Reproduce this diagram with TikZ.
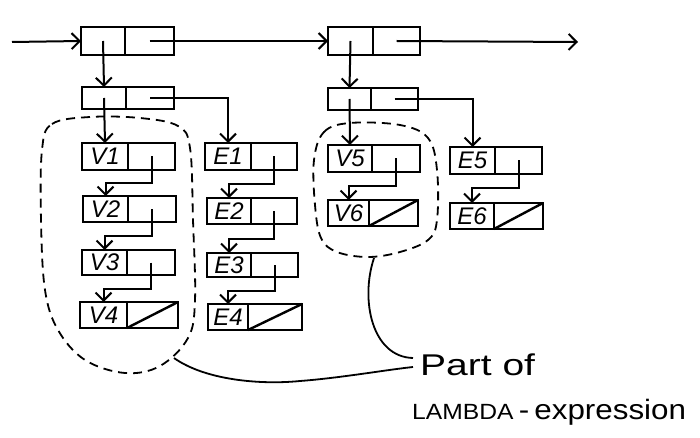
\documentclass[tikz,border=0pt]{standalone}
\usepackage{fontspec}
\setmainfont{Liberation Sans}
\usetikzlibrary{arrows.meta,calc}
\tikzset{
 half/.style={draw, line width=2.6pt, inner sep=0pt, outer sep=0pt, font=\fontsize{24}{24}\selectfont\itshape},
 arr/.style={line width=2pt, -{Straight Barb[length=8pt,width=16pt,line width=2pt]}},
 region/.style={dash pattern=on 9pt off 6pt, line width=1.8pt},
 nullbar/.style={line width=2.4pt},
 lead/.style={line width=1.8pt},
 caption/.style={anchor=base west, inner sep=0pt}
}
\newcommand\conscell[7]{% name, left, top, car width, cdr width, height, label
 \node[half, minimum width=#4pt, minimum height=#6pt] (#1a) at ({#2+#4/2},{#3+#6/2}) {#7};
 \node[half, minimum width=#5pt, minimum height=#6pt, anchor=west] (#1d) at (#1a.east) {};
}
\newcommand\nextlink[2]{\draw[arr] (#1d.center) |- ($(#1d.south)!.5!(#2a.north)$) -| (#2a.north);}
\newcommand\nullcdr[1]{\draw[nullbar] (#1d.south west) -- (#1d.north east);}
\begin{document}
\begin{tikzpicture}[x=1pt,y=-1pt]
\useasboundingbox (0,0) rectangle (700,438);
% cells
\conscell{T1}{81}{27}{44}{49}{28}{}
\conscell{T2}{328}{27}{45}{47}{28}{}
\conscell{R1}{82}{87}{44}{48}{22}{}
\conscell{R2}{328}{88}{43}{47}{22}{}
\conscell{V1}{82}{143}{46}{47}{27}{V1}
\conscell{V2}{83}{196}{45}{48}{26}{V2}
\conscell{V3}{82}{250}{45}{48}{25}{V3}
\conscell{V4}{80}{302}{47}{51}{26}{V4}
\conscell{E1}{205}{143}{46}{46}{27}{E1}
\conscell{E2}{207}{198}{44}{46}{26}{E2}
\conscell{E3}{207}{253}{44}{47}{24}{E3}
\conscell{E4}{208}{304}{40}{54}{26}{E4}
\conscell{V5}{328}{145}{44}{48}{27}{V5}
\conscell{V6}{328}{200}{41}{49}{26}{V6}
\conscell{E5}{450}{147}{45}{47}{27}{E5}
\conscell{E6}{450}{203}{44}{49}{26}{E6}
% nulls
\nullcdr{V4}\nullcdr{E4}\nullcdr{V6}\nullcdr{E6}
% top level arrows
\coordinate (in) at (12,42);
\coordinate (out) at (578,42);
\draw[arr] (in) -- (T1a.west);
\draw[arr] (T1d.center) -- (T2a.west);
\draw[arr] (T2d.center) -- (out);
\draw[arr] (T1a.center) -- (R1a.north);
\draw[arr] (T2a.center) -- (R2a.north);
\draw[arr] (R1a.center) -- (V1a.north);
\draw[arr] (R2a.center) -- (V5a.north);
\draw[arr] (R1d.center) -| (E1a.north);
\draw[arr] (R2d.center) -| (E5a.north);
% list links
\nextlink{V1}{V2}\nextlink{V2}{V3}\nextlink{V3}{V4}
\nextlink{E1}{E2}\nextlink{E2}{E3}\nextlink{E3}{E4}
\nextlink{V5}{V6}\nextlink{E5}{E6}
% dashed regions
\draw[region] plot[smooth cycle, tension=0.6] coordinates {(42,150) (52,124) (90,117) (140,118) (178,126) (190,148) (193,220) (195,300) (188,338) (160,366) (125,373) (85,360) (58,330) (45,290) (41,220)};
\draw[region] plot[smooth cycle, tension=0.6] coordinates {(314,160) (324,132) (350,123) (400,125) (428,138) (437,170) (437,220) (428,240) (400,252) (368,257) (337,252) (321,238) (315,205)};
% caption
\node[caption, font=\fontsize{30}{30}\selectfont] (part) at (420,375) {\scalebox{1.3}[1]{Part of}};
\node[caption, font=\fontsize{28}{30}\selectfont] (lambda) at (412,419) {\scalebox{1.12}[1]{{\fontsize{22}{22}\selectfont LAMBDA}\,-\,expression}};
\coordinate (rbot) at (374,258);
\coordinate (lbot) at (174,358);
\coordinate (tipA) at (413,358);
\coordinate (tipB) at (413,367);
\draw[lead] (rbot) .. controls (360,300) and (372,357) .. (tipA);
\draw[lead] (lbot) .. controls (205,380) and (260,385) .. (300,381) .. controls (340,378) and (385,370) .. (tipB);
\end{tikzpicture}
\end{document}
